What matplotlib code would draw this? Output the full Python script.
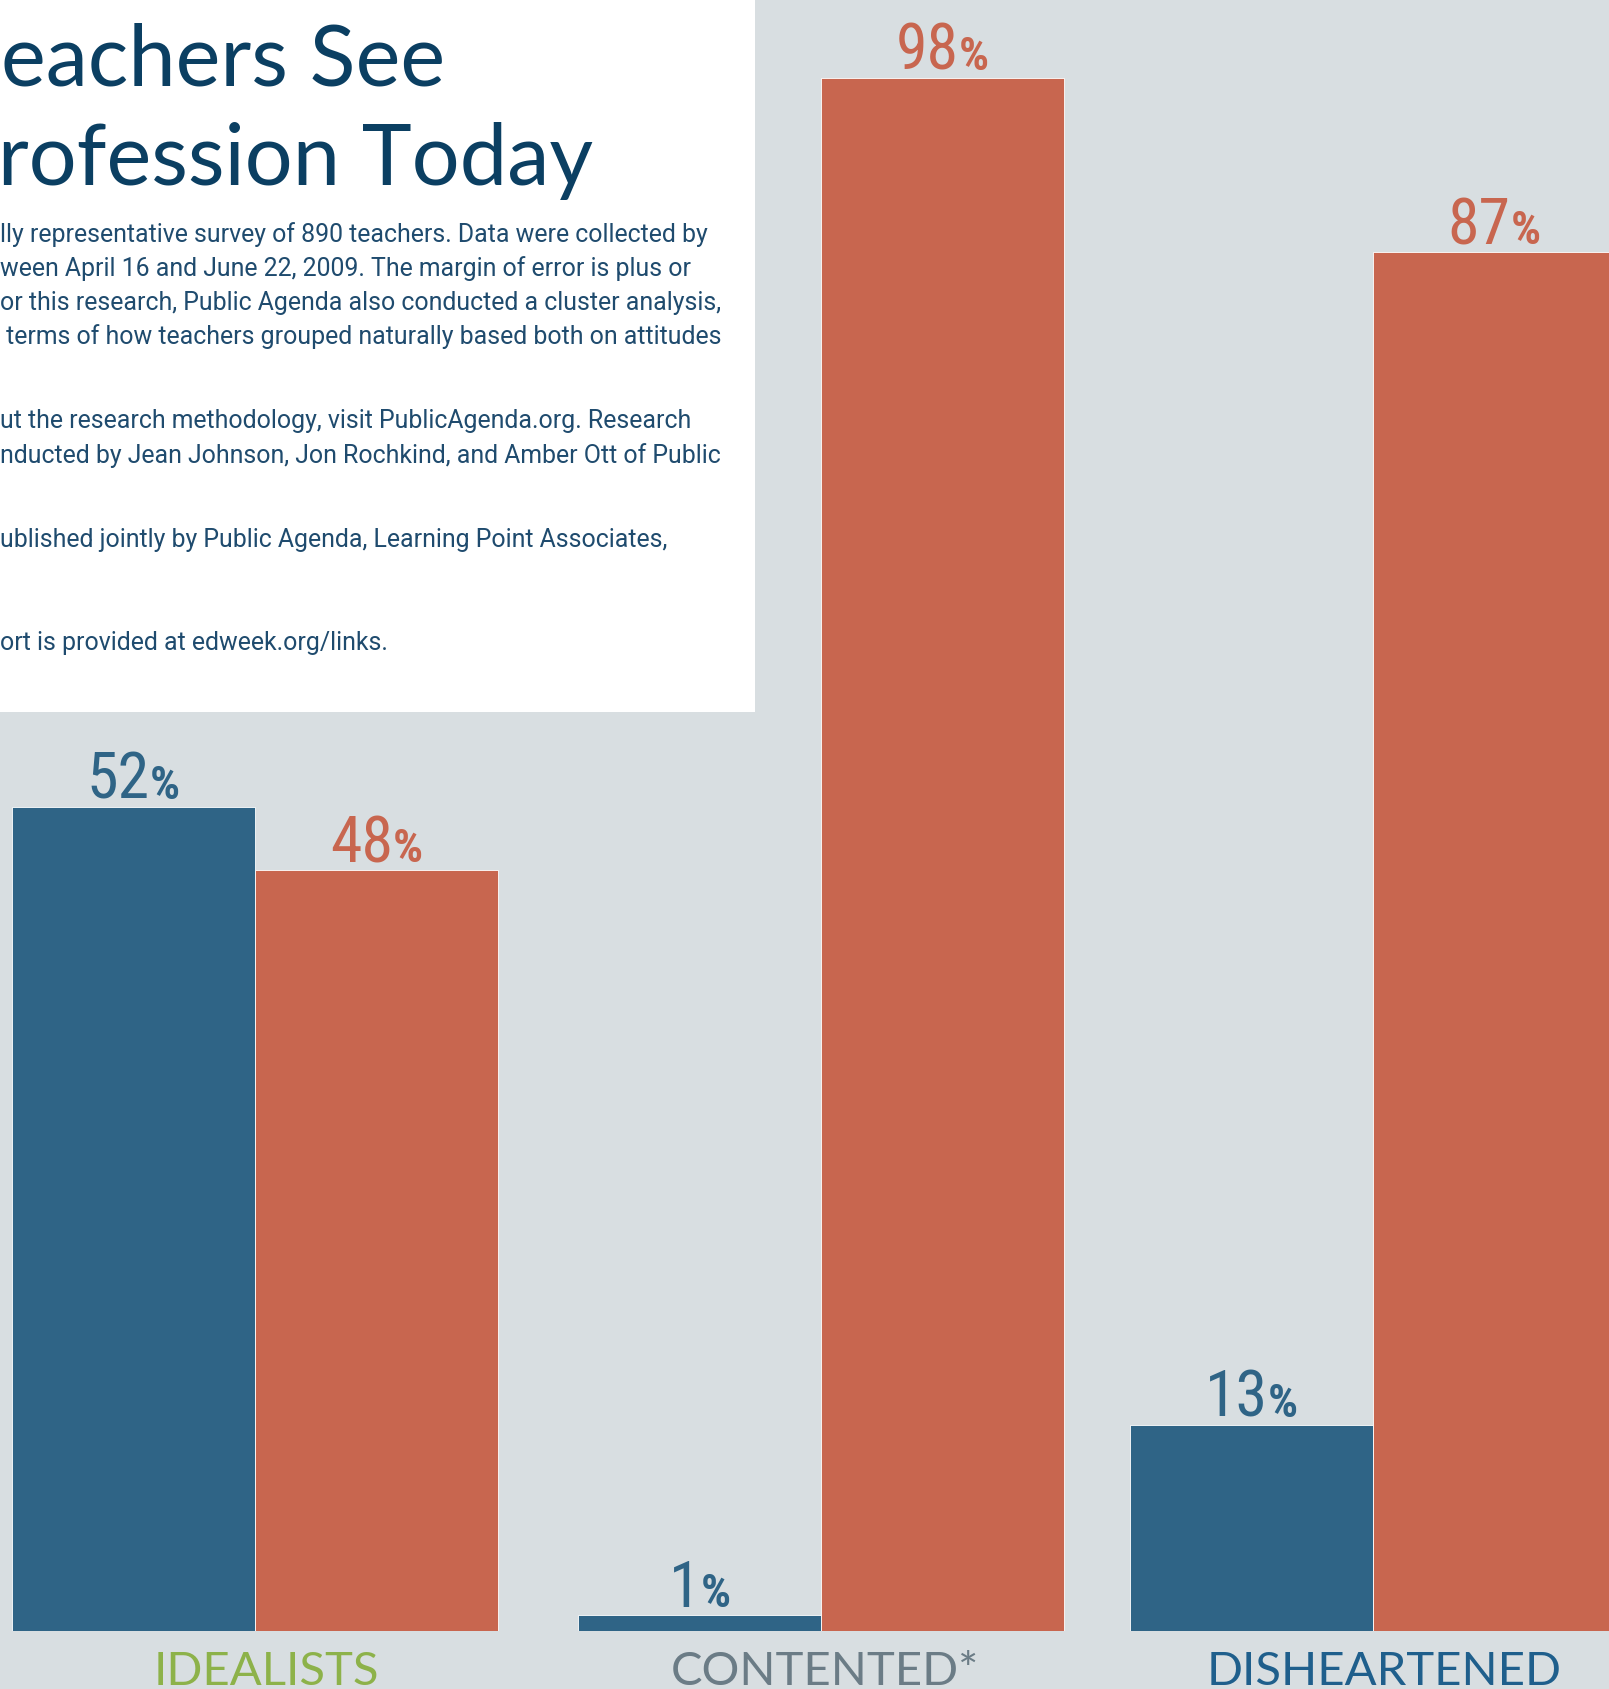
import matplotlib
matplotlib.use("Agg")
import matplotlib.pyplot as plt
from matplotlib import font_manager
from matplotlib.patches import Rectangle

# data
categories = ["IDEALISTS", "CONTENTED*", "DISHEARTENED"]
category_colors = ["#8db24a", "#6b7c86", "#1f5f8c"]
blue_values = [52, 1, 13]
red_values = [48, 98, 87]
group_positions = [0.0, 2.33, 4.6]

title_lines = ["Teachers See", "Profession Today"]
note_lines = [
    "lly representative survey of 890 teachers. Data were collected by",
    "ween April 16 and June 22, 2009. The margin of error is plus or",
    "or this research, Public Agenda also conducted a cluster analysis,",
    " terms of how teachers grouped naturally based both on attitudes",
    "ut the research methodology, visit PublicAgenda.org. Research",
    "nducted by Jean Johnson, Jon Rochkind, and Amber Ott of Public",
    "ublished jointly by Public Agenda, Learning Point Associates,",
    "ort is provided at edweek.org/links.",
]

BG = "#d8dee1"
BLUE = "#2f6486"
RED = "#c8664f"
NAVY = "#0b3f62"
NOTE = "#1f4b6e"
W, H, DPI = 1609, 1690, 100


def pick_font(candidates):
    for name in candidates:
        try:
            font_manager.findfont(font_manager.FontProperties(family=name),
                                  fallback_to_default=False)
            return name
        except ValueError:
            continue
    return "DejaVu Sans"


title_font = pick_font(["Lato", "Open Sans"])
note_font = pick_font(["Roboto", "Liberation Sans"])
num_font = pick_font(["Liberation Sans Narrow", "Roboto Condensed", "Roboto"])
cat_font = pick_font(["Lato", "Open Sans"])

fig = plt.figure(figsize=(W / DPI, H / DPI), dpi=DPI, facecolor=BG)

# overlay in pixel units for the header panel
over = fig.add_axes([0, 0, 1, 1], zorder=0)
over.set_xlim(0, W)
over.set_ylim(H, 0)
over.axis("off")
over.add_patch(Rectangle((0, 0), 755, 713, facecolor="white", edgecolor="none"))

# the panel is cropped on the left, so the title starts off-canvas
over.text(445, 86, title_lines[0], ha="right", va="baseline", fontsize=61,
          family=title_font, color=NAVY)
over.text(-53, 185, title_lines[1], ha="left", va="baseline", fontsize=61,
          family=title_font, color=NAVY)

note_baselines = [242, 276, 310, 344, 428, 463, 547, 650]
for line, base in zip(note_lines, note_baselines):
    over.text(0, base, line, ha="left", va="baseline", fontsize=17.9,
              family=note_font, color=NOTE)

# bar chart
bottom_px = 1632
px_per_pct = 15.85
bar_w = 243
ax = fig.add_axes([0, (H - bottom_px) / H, 1, bottom_px / H], zorder=1)
ax.patch.set_alpha(0)
ax.set_ylim(0, bottom_px / px_per_pct)
left_units = 255 / bar_w
ax.set_xlim(-left_units, W / bar_w - left_units)
ax.axis("off")

blue_x = [g - 0.5 for g in group_positions]
red_x = [g + 0.5 for g in group_positions]
ax.bar(blue_x, blue_values, width=1.0, color=BLUE, edgecolor="white", linewidth=0.6)
ax.bar(red_x, red_values, width=1.0, color=RED, edgecolor="white", linewidth=0.6)

pairs = []
for xs, vals, color in [(blue_x, blue_values, BLUE), (red_x, red_values, RED)]:
    for x, v in zip(xs, vals):
        num = ax.annotate(f"{v}", xy=(x, v), xytext=(0, 6.5), textcoords="offset points",
                          ha="right", va="baseline", fontsize=46, family=num_font,
                          color=color, annotation_clip=False)
        pct = ax.annotate("%", xy=(x, v), xytext=(0, 6.5), textcoords="offset points",
                          ha="left", va="baseline", fontsize=34, family=num_font,
                          weight="bold", color=color, annotation_clip=False)
        pairs.append((num, pct))

for g, name, color, dx in zip(group_positions, categories, category_colors, [8, 3, 8]):
    ax.annotate(name, xy=(g, 0), xytext=(dx, -38.5), textcoords="offset points",
                ha="center", va="baseline", fontsize=34, family=cat_font,
                color=color, annotation_clip=False)

# center each "NN%" pair over its bar
fig.canvas.draw()
renderer = fig.canvas.get_renderer()
for num, pct in pairs:
    wn = num.get_window_extent(renderer).width
    wp = pct.get_window_extent(renderer).width
    dx = (wn - wp) / 2 * 72 / DPI
    num.xyann = (dx, 6.5)
    pct.xyann = (dx, 6.5)

fig.savefig("out.png", dpi=DPI, facecolor=BG)
